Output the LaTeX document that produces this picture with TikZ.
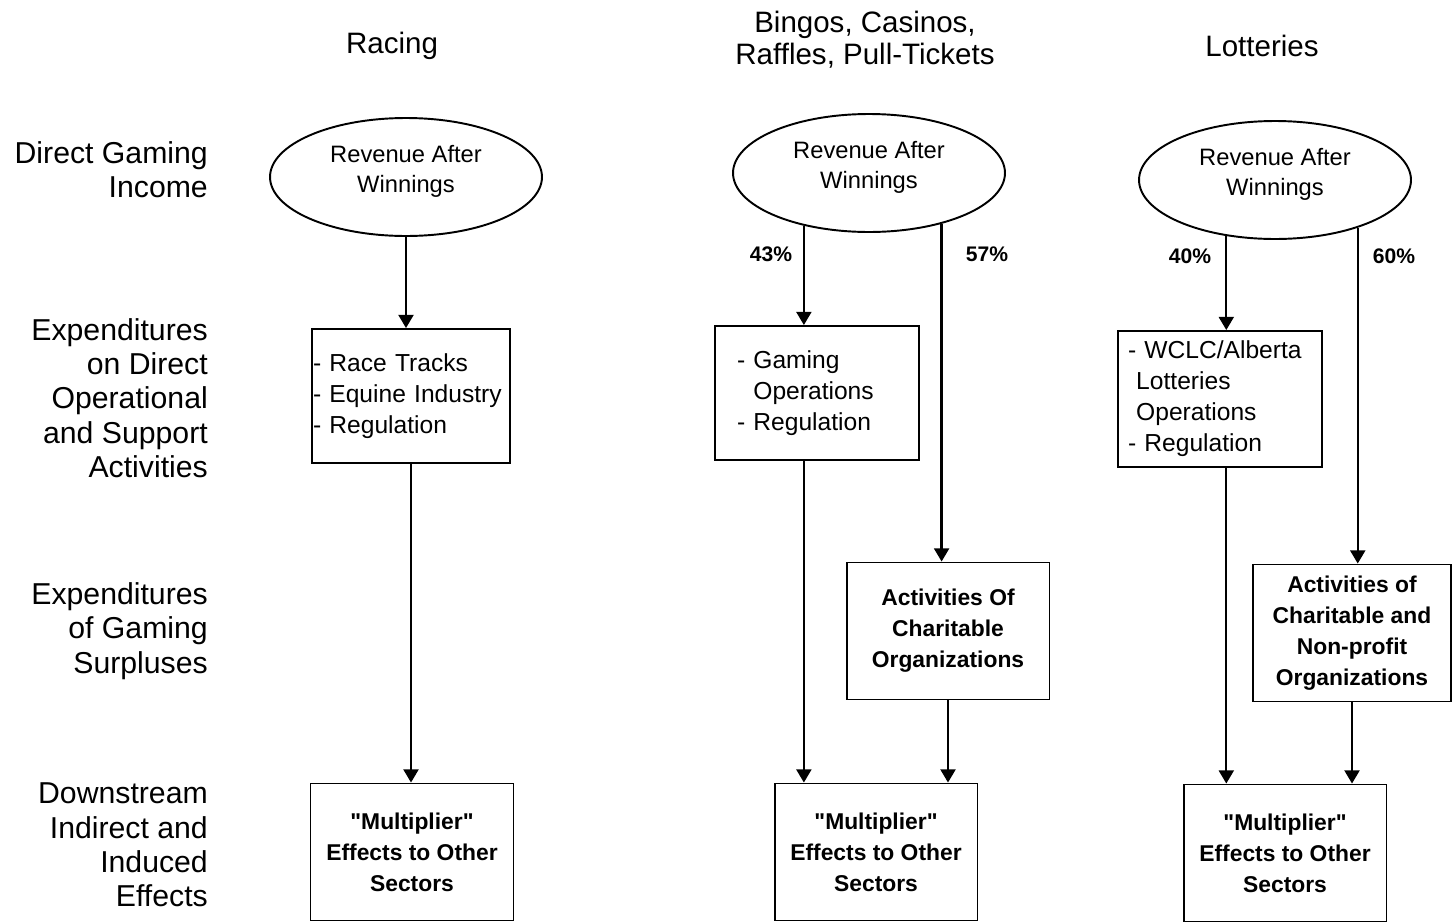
\documentclass[tikz,border=0pt]{standalone}
\usepackage{fontspec}
\setmainfont{Liberation Sans}[Ligatures=TeXOff]
\usetikzlibrary{arrows.meta,shapes.geometric}

\begin{document}
\begin{tikzpicture}[x=0.02cm,y=-0.02cm,
  oval/.style={draw,line width=1.1pt,ellipse,minimum width=5.44cm,minimum height=2.36cm,align=center,text depth=9pt,font=\fontsize{13.5}{17}\selectfont},
  opsbox/.style={draw,line width=1.1pt,align=left,minimum height=2.68cm,font=\fontsize{14}{17.6}\selectfont},
  outbox/.style={draw,line width=1.1pt,align=center,minimum width=4.06cm,minimum height=2.74cm,font=\bfseries\fontsize{13}{17.6}\selectfont},
  rowlabel/.style={anchor=east,align=right,font=\fontsize{17.2}{19.5}\selectfont},
  colhead/.style={align=center,font=\fontsize{16.8}{18.1}\selectfont},
  pct/.style={font=\bfseries\fontsize{12}{14}\selectfont},
  arrow/.style={-{Triangle[width=8.5pt,length=7.5pt]},line width=1.3pt}
]
\useasboundingbox (0,0) rectangle (1452,923);
\node[colhead] (racing) at (392,46) {Racing};
\node[colhead] (bingo) at (865,40) {Bingos, Casinos,\\Raffles, Pull-Tickets};
\node[colhead] (lotto) at (1262,46) {Lotteries};
\node[rowlabel] (row1) at (214,170) {Direct Gaming\\Income};
\node[rowlabel] (row2) at (214,398) {Expenditures\\on Direct\\Operational\\and Support\\Activities};
\node[rowlabel] (row3) at (214,631) {Expenditures\\of Gaming\\Surpluses};
\node[rowlabel] (row4) at (214,845) {Downstream\\Indirect and\\Induced\\Effects};
\node[oval] (rev1) at (406,177) {Revenue After\\Winnings};
\node[oval] (rev2) at (869,173) {Revenue After\\Winnings};
\node[oval] (rev3) at (1275,180) {Revenue After\\Winnings};
\node[opsbox,text width=3.92cm,inner xsep=0.8pt] (ops1) at (411,396) {- Race Tracks\\- Equine Industry\\- Regulation};
\node[opsbox,text width=3.2cm,inner xsep=12.5pt] (ops2) at (817,393) {- Gaming\\\hphantom{- }Operations\\- Regulation};
\node[opsbox,text width=3.68cm,inner xsep=5.7pt,minimum height=2.72cm] (ops3) at (1220,399) {- WCLC/Alberta\\\hphantom{-}Lotteries\\\hphantom{-}Operations\\- Regulation};
\node[outbox] (char2) at (948,631) {Activities Of\\Charitable\\Organizations};
\node[outbox,minimum width=3.96cm] (char3) at (1352,633) {Activities of\\Charitable and\\Non-profit\\Organizations};
\node[outbox] (mult1) at (412,852) {"Multiplier"\\Effects to Other\\Sectors};
\node[outbox] (mult2) at (876,852) {"Multiplier"\\Effects to Other\\Sectors};
\node[outbox] (mult3) at (1285,853) {"Multiplier"\\Effects to Other\\Sectors};
\node[pct] (p43) at (771,254) {43\%};
\node[pct] (p57) at (987,254) {57\%};
\node[pct] (p40) at (1190,256) {40\%};
\node[pct] (p60) at (1394,256) {60\%};
\draw[arrow] (rev1.south) -- (rev1.south |- ops1.north);
\draw[arrow] (ops1.south) -- (ops1.south |- mult1.north);
\draw[arrow] (rev2.219) -- (rev2.219 |- ops2.north);
\draw[arrow] (rev2.325) -- (rev2.325 |- char2.north);
\draw[arrow] (ops2.south -| rev2.219) -- (rev2.219 |- mult2.north);
\draw[arrow] (char2.south) -- (char2.south |- mult2.north);
\draw[arrow] (rev3.229) -- (rev3.229 |- ops3.north);
\draw[arrow] (rev3.330) -- (rev3.330 |- char3.north);
\draw[arrow] (ops3.south -| rev3.229) -- (rev3.229 |- mult3.north);
\draw[arrow] (char3.south) -- (char3.south |- mult3.north);
\end{tikzpicture}
\end{document}
